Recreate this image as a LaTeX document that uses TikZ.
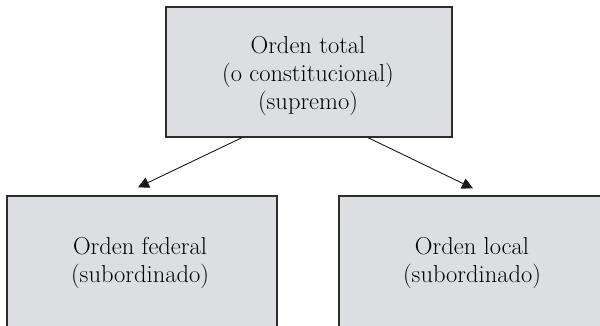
\documentclass[tikz,border=0pt]{standalone}
\usetikzlibrary{arrows.meta}
\definecolor{boxfill}{RGB}{221,222,225}
\definecolor{boxline}{RGB}{45,45,45}
\begin{document}
\begin{tikzpicture}[x=1pt,y=-1pt,
  box/.style={draw=boxline,fill=boxfill,line width=1.3pt,rectangle,inner sep=0pt},
  lbl/.style={font=\fontsize{24.5}{28}\selectfont,text=black,anchor=base,inner sep=0pt},
  arr/.style={line width=0.9pt,draw=black!90,-{Triangle[length=11pt,width=11pt]}}]
\path[use as bounding box] (0,0) rectangle (600,326);
\clip (0,0) rectangle (600,326);
\node[box,minimum width=286pt,minimum height=130pt] (top) at (309,72) {};
\node[box,minimum width=270pt,minimum height=150pt] (left) at (142,271) {};
\node[box,minimum width=270pt,minimum height=150pt] (right) at (474,271) {};
\node[lbl] (t1) at (308,54) {Orden total};
\node[lbl] (t2) at (308,82) {(o constitucional)};
\node[lbl] (t3) at (308,110) {(supremo)};
\node[lbl] (l1) at (140,254) {Orden federal};
\node[lbl] (l2) at (140,282) {(subordinado)};
\node[lbl] (r1) at (472,254) {Orden local};
\node[lbl] (r2) at (472,282) {(subordinado)};
\draw[arr] ([xshift=-67pt]top.south) -- ([xshift=-4pt,yshift=8pt]left.north);
\draw[arr] ([xshift=59pt]top.south) -- ([xshift=-1pt,yshift=7pt]right.north);
\end{tikzpicture}
\end{document}
